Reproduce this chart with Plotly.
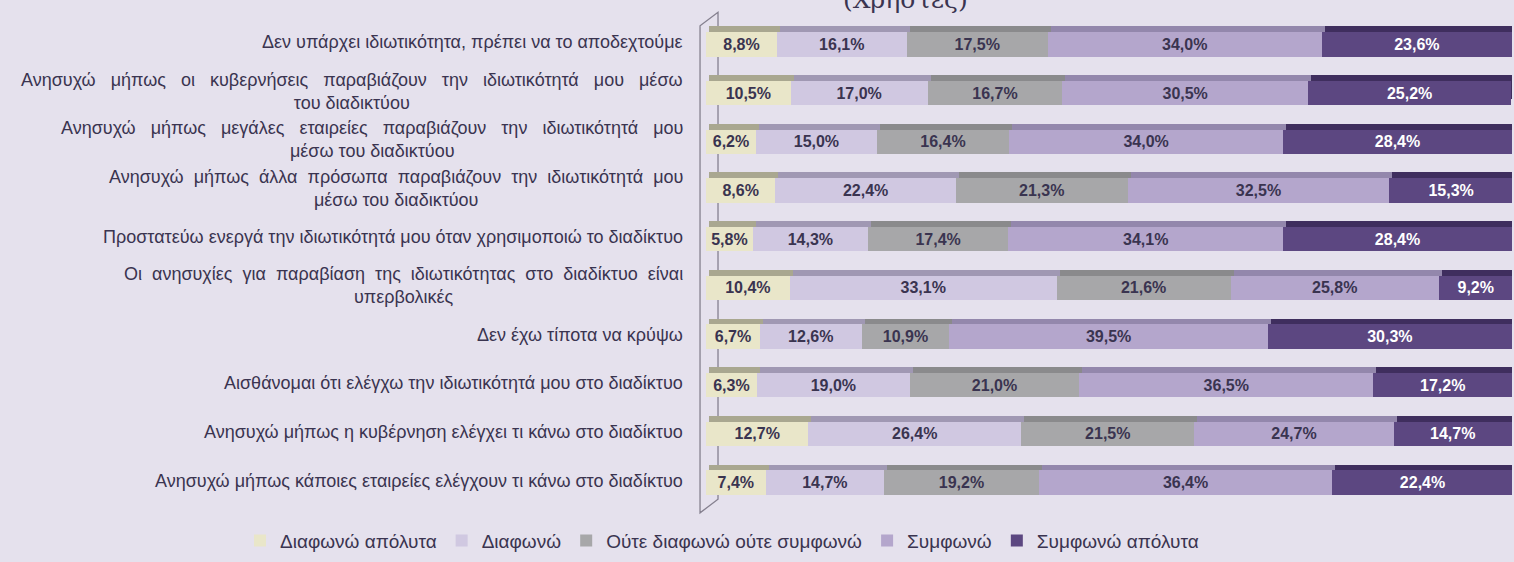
import plotly.graph_objects as go

categories = [
    "Δεν υπάρχει ιδιωτικότητα, πρέπει να το αποδεχτούμε",
    "Ανησυχώ μήπως οι κυβερνήσεις παραβιάζουν την ιδιωτικότητά μου μέσω<br>του διαδικτύου",
    "Ανησυχώ μήπως μεγάλες εταιρείες παραβιάζουν την ιδιωτικότητά μου<br>μέσω του διαδικτύου",
    "Ανησυχώ μήπως άλλα πρόσωπα παραβιάζουν την ιδιωτικότητά μου<br>μέσω του διαδικτύου",
    "Προστατεύω ενεργά την ιδιωτικότητά μου όταν χρησιμοποιώ το διαδίκτυο",
    "Οι ανησυχίες για παραβίαση της ιδιωτικότητας στο διαδίκτυο είναι<br>υπερβολικές",
    "Δεν έχω τίποτα να κρύψω",
    "Αισθάνομαι ότι ελέγχω την ιδιωτικότητά μου στο διαδίκτυο",
    "Ανησυχώ μήπως η κυβέρνηση ελέγχει τι κάνω στο διαδίκτυο",
    "Ανησυχώ μήπως κάποιες εταιρείες ελέγχουν τι κάνω στο διαδίκτυο",
]
# extra non-breaking spaces per word gap in the first line (mimics justified text)
label_justify = [0, 2, 2, 1, 0, 1, 0, 0, 0, 0]

series_names = ["Διαφωνώ απόλυτα", "Διαφωνώ", "Ούτε διαφωνώ ούτε συμφωνώ",
                "Συμφωνώ", "Συμφωνώ απόλυτα"]

diafono_apoluta = [8.8, 10.5, 6.2, 8.6, 5.8, 10.4, 6.7, 6.3, 12.7, 7.4]
diafono = [16.1, 17.0, 15.0, 22.4, 14.3, 33.1, 12.6, 19.0, 26.4, 14.7]
oute = [17.5, 16.7, 16.4, 21.3, 17.4, 21.6, 10.9, 21.0, 21.5, 19.2]
symfono = [34.0, 30.5, 34.0, 32.5, 34.1, 25.8, 39.5, 36.5, 24.7, 36.4]
symfono_apoluta = [23.6, 25.2, 28.4, 15.3, 28.4, 9.2, 30.3, 17.2, 14.7, 22.4]

series_values = [diafono_apoluta, diafono, oute, symfono, symfono_apoluta]

front_colors = ["#E9E6C9", "#D0C8E1", "#A7A7A9", "#B4A6CC", "#5C4781"]
top_colors = ["#A9A790", "#A098B3", "#8A8A8C", "#9387AC", "#3F2E5E"]
text_colors = ["#3A3450", "#3A3450", "#3A3450", "#3A3450", "#FFFFFF"]

BG = "#E5E1ED"

fig = go.Figure()

# "3D" top faces: same data on the base axes (drawn underneath), shifted up/right
for name, vals, col in zip(series_names, series_values, top_colors):
    fig.add_trace(go.Bar(
        y=categories, x=vals, orientation="h", name=name,
        marker=dict(color=col, line=dict(width=0)),
        xaxis="x", yaxis="y", showlegend=False, hoverinfo="skip",
    ))

def fmt(v):
    return f"{v:.1f}%".replace(".", ",")

# front faces on the overlay axes (drawn on top)
for name, vals, col, tcol in zip(series_names, series_values, front_colors, text_colors):
    fig.add_trace(go.Bar(
        y=categories, x=vals, orientation="h", name=name,
        marker=dict(color=col, line=dict(width=0)),
        text=[fmt(v) for v in vals], textposition="inside",
        insidetextanchor="middle",
        textfont=dict(family="Liberation Sans", size=16, color=tcol, weight="bold"),
        textangle=0, xaxis="x2", yaxis="y2",
    ))

def justify(label, n):
    if n <= 0:
        return label
    lines = label.split("<br>")
    lines[0] = lines[0].replace(" ", " " + "\u00a0" * n)
    return "<br>".join(lines)

annotations = []
for i, (c, n) in enumerate(zip(categories, label_justify)):
    annotations.append(dict(
        x=0, xref="paper", xshift=-21, xanchor="right",
        y=i, yref="y2", yshift=2, yanchor="middle",
        text=justify(c, n), showarrow=False, align="center",
        font=dict(family="Liberation Sans", size=18, color="#3A3450"),
    ))

annotations.append(dict(
    x=(905 - 706) / 806, xref="paper", xanchor="center",
    y=1, yref="paper", yshift=21, yanchor="middle",
    text="(Χρήστες)", showarrow=False,
    font=dict(family="DejaVu Serif", size=25, color="#3A3450"),
))

wall = "#85808F"
shapes = [dict(type="path", xref="paper", yref="paper",
               path="M -0.0074 0.988 L -0.0074 -0.012 L 0.0149 0.016 L 0.0149 1.016 Z",
               line=dict(color=wall, width=1.3), fillcolor="rgba(0,0,0,0)", layer="below")]

YSH = 0.12   # 6 px up
XSH = 0.37   # 3 px right

fig.update_layout(
    barmode="stack",
    bargap=0.5,
    paper_bgcolor=BG,
    plot_bgcolor=BG,
    width=1514, height=562,
    margin=dict(l=706, r=2, t=20, b=41),
    xaxis=dict(range=[-XSH, 100 - XSH], visible=False),
    yaxis=dict(range=[9.5 + YSH, -0.5 + YSH], visible=False, type="category",
               categoryorder="array", categoryarray=categories),
    xaxis2=dict(range=[0, 100], visible=False, overlaying="x"),
    yaxis2=dict(range=[9.5, -0.5], visible=False, overlaying="y", type="category",
                categoryorder="array", categoryarray=categories),
    showlegend=True,
    legend=dict(orientation="h", xref="paper", yref="paper",
                x=(240 - 706) / 806, y=(521 - 536) / 501, xanchor="left", yanchor="top",
                font=dict(family="Liberation Sans", size=19, color="#3A3450"),
                bgcolor="rgba(0,0,0,0)", traceorder="normal",
                itemwidth=30, tracegroupgap=0),
    annotations=annotations,
    shapes=shapes,
    uniformtext=dict(mode="show", minsize=10),
)

fig.write_html("out.html", config={"displayModeBar": False},
               post_script="document.body.style.margin='0';document.body.style.overflow='hidden';")
